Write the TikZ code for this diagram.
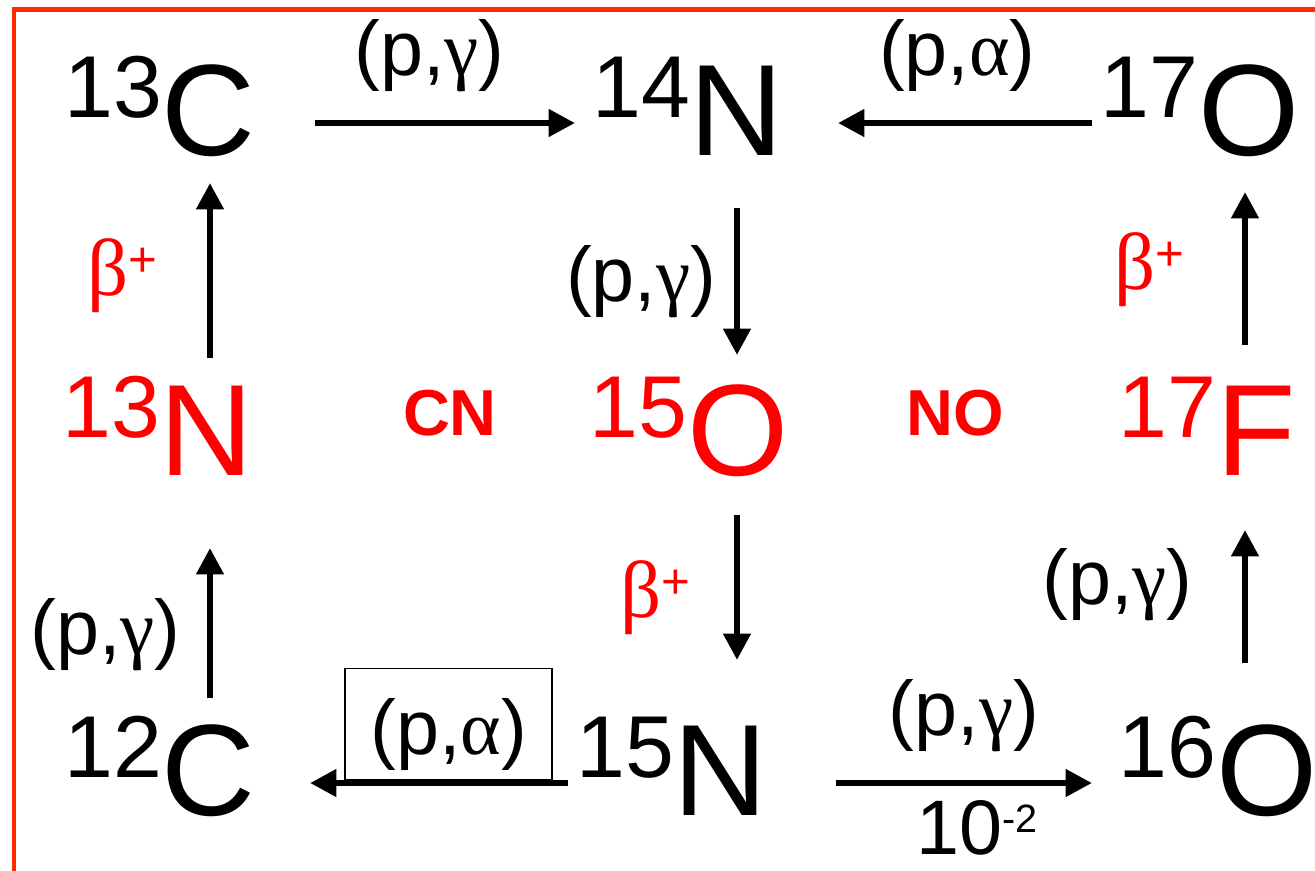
\documentclass[tikz,border=0pt]{standalone}
\usepackage{fontspec}
\setmainfont{Liberation Sans}
\newfontfamily\grk{Liberation Serif}
\usetikzlibrary{arrows.meta,calc}
\definecolor{framered}{RGB}{255,40,0}
\newcommand{\iso}[2]{\raisebox{21.6pt}{\fontsize{50pt}{50pt}\selectfont #1}#2}
\newcommand{\pg}{(p,{\grk γ})}
\newcommand{\pa}{(p,{\grk α})}
\newcommand{\bplus}{{\grk β}\raisebox{11pt}{\fontsize{28pt}{28pt}\selectfont +}}
\tikzset{
  nuc/.style={anchor=base,inner sep=0pt,font=\fontsize{74pt}{80pt}\selectfont},
  rxn/.style={line width=3.6pt,-{Triangle[length=15pt,width=15pt]}},
  lab/.style={inner sep=0pt,font=\fontsize{44pt}{48pt}\selectfont},
  decay/.style={lab,text=red,font=\fontsize{46pt}{48pt}\selectfont},
  cyc/.style={text=red,inner sep=0pt,font=\fontsize{37pt}{40pt}\selectfont\bfseries},
  boxlab/.style={lab,draw,line width=0.8pt,minimum width=4.14cm,minimum height=2.22cm,
    text height=1.52cm,text depth=0.32cm}
}
\begin{document}
\begin{tikzpicture}[x=0.02cm,y=-0.02cm]
  \useasboundingbox (0,0) rectangle (1315,870);
  \clip (0,0) rectangle (1315,870);
  % Rahmen
  \draw[framered,line width=2.6pt] (14,9.5) rectangle (1400,950);
  % Kerne
  \node[nuc] (c13) at (160,155) {\iso{13}{C}};
  \node[nuc] (n14) at (688,155) {\iso{14}{N}};
  \node[nuc] (o17) at (1200,155) {\iso{17}{O}};
  \node[nuc,text=red] (n13) at (158,475) {\iso{13}{N}};
  \node[nuc,text=red] (o15) at (689,475) {\iso{15}{O}};
  \node[nuc,text=red] (f17) at (1207,475) {\iso{17}{F}};
  \node[nuc] (c12) at (160,815) {\iso{12}{C}};
  \node[nuc] (n15) at (672,815) {\iso{15}{N}};
  \node[nuc] (o16) at (1218,815) {\iso{16}{O}};
  % Zyklen
  \node[cyc] (cn) at (450,413) {CN};
  \node[cyc] (no) at (955,413) {NO};
  % obere Reihe
  \draw[rxn] ($(c13.base)+(155,-32)$) -- node[lab,pos=0.44,above=16pt] {\pg} ($(n14.base)+(-113,-32)$);
  \draw[rxn] ($(o17.base)+(-108,-32)$) -- node[lab,pos=0.53,above=16pt] {\pa} ($(n14.base)+(150,-32)$);
  % mittlere Spalte
  \draw[rxn] ($(n14.base)+(49,53)$) -- node[lab,midway,left=10pt] {\pg} ($(o15.base)+(48,-120)$);
  \draw[rxn] ($(o15.base)+(48,40)$) -- node[decay,pos=0.57,left=25pt] {\bplus} ($(n15.base)+(65,-155)$);
  % linke Spalte
  \draw[rxn] ($(n13.base)+(52,-117)$) -- node[decay,pos=0.47,left=28pt] {\bplus} ($(c13.base)+(50,28)$);
  \draw[rxn] ($(c12.base)+(50,-117)$) -- node[lab,pos=0.42,left=15pt] {\pg} ($(n13.base)+(52,73)$);
  % rechte Spalte
  \draw[rxn] ($(o16.base)+(27,-152)$) -- node[lab,pos=0.59,left=28pt] {\pg} ($(f17.base)+(38,55)$);
  \draw[rxn] ($(f17.base)+(38,-130)$) -- node[decay,pos=0.49,left=33pt] {\bplus} ($(o17.base)+(45,37)$);
  % untere Reihe
  \draw[rxn] ($(n15.base)+(-104,-32)$) -- node[boxlab,pos=0.463,above=1.5pt] {\pa} ($(c12.base)+(150,-32)$);
  \draw[rxn] ($(n15.base)+(164,-32)$) --
    node[lab,midway,above=16pt] {\pg}
    node[lab,pos=0.55,below=8pt] {10\raisebox{12.5pt}{\fontsize{22.5pt}{24pt}\selectfont -2}}
    ($(o16.base)+(-126,-32)$);
\end{tikzpicture}
\end{document}
